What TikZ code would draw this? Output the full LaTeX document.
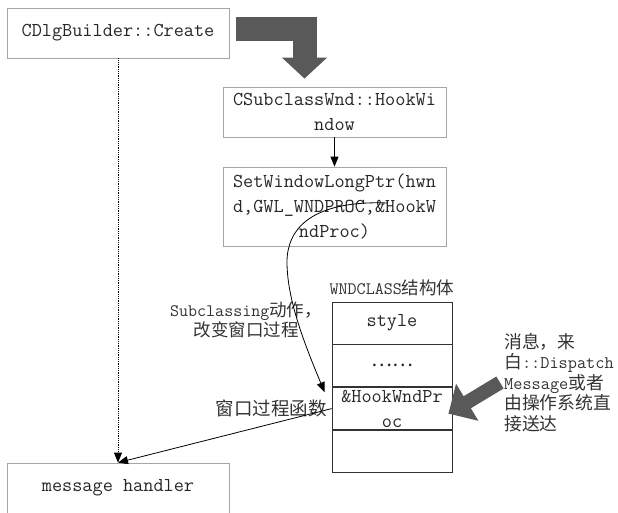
\documentclass[tikz,border=0pt]{standalone}
\usepackage{fontspec}
\newfontfamily\zhfont{Noto Sans CJK SC}
\newcommand{\zh}[1]{{\zhfont #1}}
\newcommand{\boxfs}{\fontsize{19.7}{25}\selectfont\ttfamily}
\newcommand{\lblfs}{\fontsize{17.5}{17.5}\selectfont\ttfamily}
\usetikzlibrary{arrows.meta,positioning}
\tikzset{
  gbox/.style={draw=black!35,line width=0.8pt,inner sep=0pt,align=center,text=black!85,font=\boxfs},
  cell/.style={draw=black!80,line width=0.8pt,inner sep=0pt,minimum width=120pt,minimum height=42pt,align=center,text=black!85,font=\boxfs},
  lbl/.style={inner sep=0pt,align=center,text=black!80,font=\lblfs},
  arr/.style={-{Triangle[length=10pt,width=8pt]},line width=0.8pt},
  fatarr/.style={draw=black!65,line join=miter}
}

\begin{document}
\begin{tikzpicture}[x=1pt,y=-1pt]
  \useasboundingbox (0,0) rectangle (618,512);
  % Call chain boxes
  \node[gbox, minimum width=222pt, minimum height=50pt] (create) at (118,33) {CDlgBuilder::Create};
  \node[gbox, minimum width=223pt, minimum height=50pt] (hook) at (334.5,112) {CSubclassWnd::HookWi\\ndow};
  \node[gbox, minimum width=223pt, minimum height=79pt] (setptr) at (334.5,206.5) {SetWindowLongPtr(hwn\\d,GWL\_WNDPROC,\&HookW\\ndProc)};
  \node[gbox, minimum width=222pt, minimum height=50pt] (handler) at (118,488) {message handler};

  % WNDCLASS structure
  \node[cell] (style) at (392,323) {style};
  \node[cell, below=0pt of style] (dots) {\zh{……}};
  \node[cell, below=0pt of dots] (proc) {\&HookWndPr\\oc};
  \node[cell, below=0pt of proc] (spare) {};
  \node[lbl, above=5pt of style] (wndcls) {WNDCLASS\zh{结构体}};

  % Labels
  \node[lbl] (subcls) at (246,320) {Subclassing\zh{动作，}\\\zh{改变窗口过程}};
  \node[lbl, font=\fontsize{18.5}{18.5}\selectfont] (wproc) at (271,408) {\zh{窗口过程函数}};
  \node[lbl, align=left, anchor=north west, font=\fontsize{17.8}{20.5}\selectfont\ttfamily] (msgtxt) at (504,333)
    {\zh{消息，来}\\\zh{白}::Dispatch\\Message\zh{或者}\\\zh{由操作系统直}\\\zh{接送达}};

  % Big gray arrows
  \draw[fatarr, line width=24pt, -{Triangle[length=21pt,width=44pt]}]
    ([xshift=7pt,yshift=4pt]create.east) -| ([xshift=-30pt,yshift=8pt]hook.north);
  \draw[fatarr, line width=14pt, -{Triangle[length=22pt,width=42pt]}]
    ([xshift=-4pt]msgtxt.west) -- ([xshift=-4pt,yshift=-5pt]proc.east);

  % Connectors
  \coordinate (hookarg) at (388,203);
  \draw[arr] (hook) -- (setptr);
  \draw[arr, densely dotted] (create) -- (handler);
  \draw[arr] (proc.west) -- (handler.north);
  \draw[arr] (hookarg) .. controls (310,200) and (287,230) .. (287,262)
    .. controls (287,300) and (305,345) .. ([xshift=-7pt,yshift=-5pt]proc.north west);
\end{tikzpicture}
\end{document}
